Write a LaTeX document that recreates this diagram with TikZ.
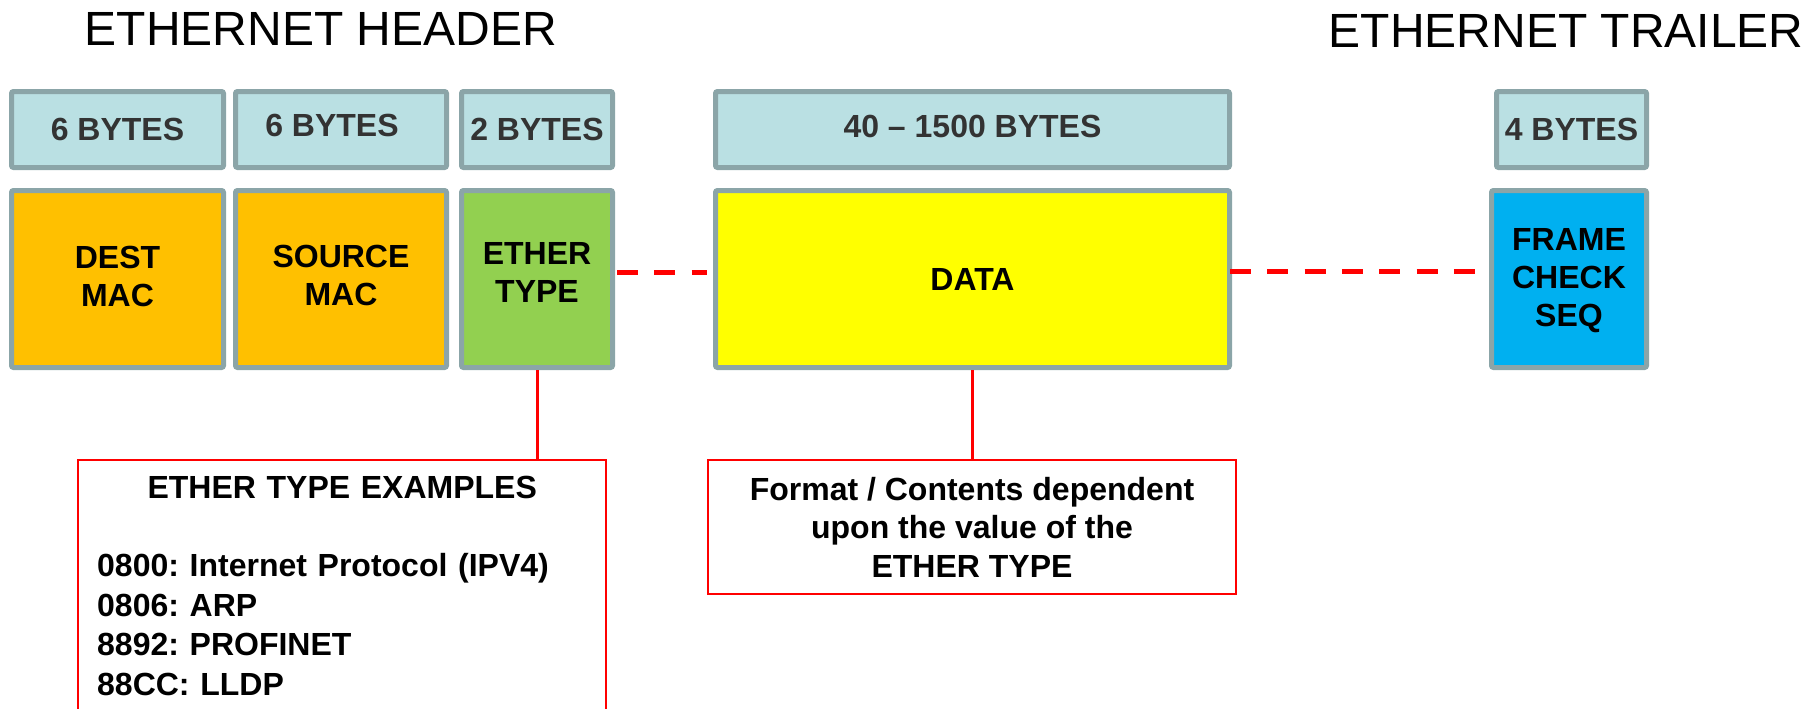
\documentclass[tikz,border=0pt]{standalone}
\usepackage{fontspec}
\setmainfont{Liberation Sans}
\frenchspacing
\definecolor{bordergray}{HTML}{8BA5A8}
\definecolor{topfill}{HTML}{BAE0E3}
\definecolor{toptext}{HTML}{333333}
\definecolor{macorange}{HTML}{FFC000}
\definecolor{typegreen}{HTML}{92D050}
\definecolor{datayellow}{HTML}{FFFF00}
\definecolor{fcsblue}{HTML}{00B0F0}
\definecolor{calloutred}{HTML}{FF0000}
\begin{document}
\begin{tikzpicture}[x=1pt,y=-1pt,
  titletext/.style={inner sep=0pt, font=\fontsize{48}{56}\selectfont},
  cellbase/.style={draw=bordergray, line width=5pt, rounded corners=2pt, inner sep=0pt,
    font=\bfseries\fontsize{32}{38}\selectfont, align=center},
  sizecell/.style={cellbase, fill=topfill, text=toptext, minimum height=76pt},
  fieldcell/.style={cellbase, text=black, minimum height=177pt},
  callout/.style={draw=calloutred, line width=2pt, inner sep=0pt, fill=white},
  redline/.style={draw=calloutred, line width=3pt},
  reddash/.style={draw=calloutred, line width=5pt, dash pattern=on 21pt off 16.3pt}]
\useasboundingbox (0,0) rectangle (1818,709);
\clip (0,0) rectangle (1818,709);

% titles
\node[titletext, anchor=base west] (hdr) at (84.5,46) {ETHERNET HEADER};
\node[titletext, anchor=base west] (trl) at (1328.5,48) {ETHERNET TRAILER};

% size row
\node[sizecell, minimum width=212pt] (s1) at (117.5,129.5) {6 BYTES};
\node[sizecell, minimum width=211pt, text depth=9pt] (s2) at (341,129.5) {\hspace*{-18pt}6 BYTES};
\node[sizecell, minimum width=151pt] (s3) at (537,129.5) {2 BYTES};
\node[sizecell, minimum width=514pt, text depth=6pt] (s4) at (972.5,129.5) {40 -- 1500 BYTES};
\node[sizecell, minimum width=150pt] (s5) at (1571.5,129.5) {4 BYTES};

% field row
\node[fieldcell, fill=macorange, minimum width=212pt, text depth=5pt] (dst) at (117.5,279) {DEST\\MAC};
\node[fieldcell, fill=macorange, minimum width=211pt, text depth=7pt] (src) at (341,279) {SOURCE\\MAC};
\node[fieldcell, fill=typegreen, minimum width=151pt, text depth=13pt] (et) at (537,279) {ETHER\\TYPE};
\node[fieldcell, fill=datayellow, minimum width=514pt] (data) at (972.5,279) {DATA};
\node[fieldcell, fill=fcsblue, minimum width=155pt, text depth=4pt] (fcs) at (1569,279) {FRAME\\CHECK\\SEQ};

% dashed links
\draw[reddash] ([xshift=2pt,yshift=7pt]et.east) -- ([xshift=-6pt,yshift=7pt]data.west);
\draw[reddash] ([xshift=-2pt,yshift=8pt]data.east) -- ([xshift=-14pt,yshift=8pt]fcs.west);

% callouts
\node[callout, minimum width=528pt, minimum height=300pt, anchor=north west] (ex) at (77,459) {};
\node[inner sep=0pt, anchor=north west, text width=490pt, align=left,
  font=\bfseries\fontsize{32}{38.5}\selectfont] (extext) at (97,476.1)
  {\makebox[\linewidth]{ETHER TYPE EXAMPLES}\\[39pt]
   0800: Internet Protocol (IPV4)\\[1.4pt]
   0806: ARP\\[1.4pt]
   8892: PROFINET\\[1.4pt]
   88CC: LLDP};
\node[callout, minimum width=528pt, minimum height=134pt, align=center,
  font=\bfseries\fontsize{32}{38.5}\selectfont] (fmt) at (972,527)
  {Format / Contents dependent\\upon the value of the\\ETHER TYPE};

\draw[redline] (et.south) -- (et.south |- ex.north);
\draw[redline] (data.south) -- (data.south |- fmt.north);
\end{tikzpicture}
\end{document}
